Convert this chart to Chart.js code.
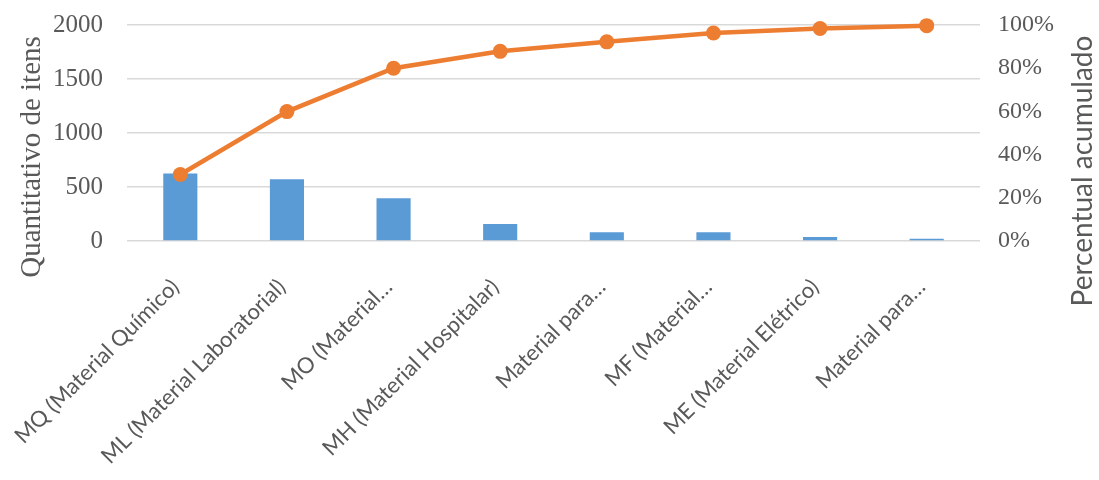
<!DOCTYPE html>
<html>
<head>
<meta charset="utf-8">
<script src="https://cdn.jsdelivr.net/npm/chart.js@4/dist/chart.umd.min.js"></script>
<style>
  html, body { margin: 0; padding: 0; background: #ffffff; }
  #wrap { width: 1099px; height: 480px; position: relative; }
</style>
</head>
<body>
<div id="wrap"><canvas id="pareto"></canvas></div>
<script>
// Categories of material (labels as shown on the axis)
const categories = [
  'MQ (Material Químico)',
  'ML (Material Laboratorial)',
  'MO (Material…',
  'MH (Material Hospitalar)',
  'Material para…',
  'MF (Material…',
  'ME (Material Elétrico)',
  'Material para…'
];

// Number of items per category
const itemCounts = [625, 571, 395, 157, 80, 80, 37, 21];

// Cumulative share (%)
const cumulativePercent = [30.8, 59.9, 80.0, 87.8, 92.2, 96.3, 98.4, 99.7];

// Axis tick values
const leftTicks = [0, 500, 1000, 1500, 2000];
const rightTicks = [0, 20, 40, 60, 80, 100];

// Axis titles
const leftTitle = 'Quantitativo de itens';
const rightTitle = 'Percentual acumulado';

const gridColor = '#d9d9d9';
const textColor = '#595959';
const serif = '"Liberation Serif", "DejaVu Serif", serif';
const sans = 'Lato, "Open Sans", "Liberation Sans", sans-serif';

// Both axis titles read bottom-to-top, so they are drawn here rather than by the scales
const axisTitles = {
  id: 'axisTitles',
  afterDraw(chart) {
    const { ctx, chartArea } = chart;
    const drawVertical = (text, x, y, font) => {
      ctx.save();
      ctx.translate(x, y);
      ctx.rotate(-Math.PI / 2);
      ctx.font = font;
      ctx.fillStyle = textColor;
      ctx.textAlign = 'center';
      ctx.textBaseline = 'middle';
      ctx.fillText(text, 0, 0);
      ctx.restore();
    };
    drawVertical(leftTitle, chartArea.left - 95, chartArea.top + 132, '29px ' + serif);
    drawVertical(rightTitle, chartArea.right + 103, chartArea.top + 146, '28px ' + sans);
  }
};

// Keep the plot area fixed: no extra room for overflowing tick labels
const noScalePadding = (s) => {
  s.paddingTop = 0;
  s.paddingBottom = 0;
  s.paddingLeft = 0;
  s.paddingRight = 0;
};

new Chart(document.getElementById('pareto'), {
  data: {
    labels: categories,
    datasets: [
      {
        type: 'line',
        label: 'Percentual acumulado',
        data: cumulativePercent,
        yAxisID: 'yRight',
        borderColor: '#ed7d31',
        backgroundColor: '#ed7d31',
        borderWidth: 4.5,
        pointRadius: 7.5,
        pointHoverRadius: 7.5,
        pointBorderWidth: 0,
        tension: 0,
        clip: false,
        order: 0
      },
      {
        type: 'bar',
        label: 'Quantitativo de itens',
        data: itemCounts,
        yAxisID: 'yLeft',
        backgroundColor: '#5b9bd5',
        borderWidth: 0,
        categoryPercentage: 1,
        barPercentage: 0.32,
        order: 1
      }
    ]
  },
  plugins: [axisTitles],
  options: {
    responsive: true,
    maintainAspectRatio: false,
    animation: false,
    layout: { padding: { top: 25, right: 0, bottom: 0, left: 0 } },
    plugins: {
      legend: { display: false },
      tooltip: { enabled: false }
    },
    scales: {
      x: {
        grid: { display: false, drawTicks: false },
        border: { display: false },
        ticks: {
          color: textColor,
          font: { family: sans, size: 22 },
          minRotation: 45,
          maxRotation: 45,
          autoSkip: false,
          padding: 33,
          labelOffset: -5
        },
        afterFit: (s) => { s.height = 239; noScalePadding(s); }
      },
      yLeft: {
        position: 'left',
        min: 0,
        max: 2000,
        afterBuildTicks: (s) => { s.ticks = leftTicks.map(v => ({ value: v })); },
        grid: { color: gridColor, lineWidth: 1.5, drawTicks: false },
        border: { display: false },
        ticks: {
          color: textColor,
          font: { family: serif, size: 25 },
          padding: 24,
          callback: (v) => String(v)
        },
        afterFit: (s) => { s.width = 127; noScalePadding(s); }
      },
      yRight: {
        position: 'right',
        min: 0,
        max: 100,
        afterBuildTicks: (s) => { s.ticks = rightTicks.map(v => ({ value: v })); },
        grid: { drawOnChartArea: false, drawTicks: false },
        border: { display: false },
        ticks: {
          color: textColor,
          font: { family: serif, size: 24 },
          padding: 18,
          callback: (v) => v + '%'
        },
        afterFit: (s) => { s.width = 119; noScalePadding(s); }
      }
    }
  }
});
</script>
</body>
</html>
